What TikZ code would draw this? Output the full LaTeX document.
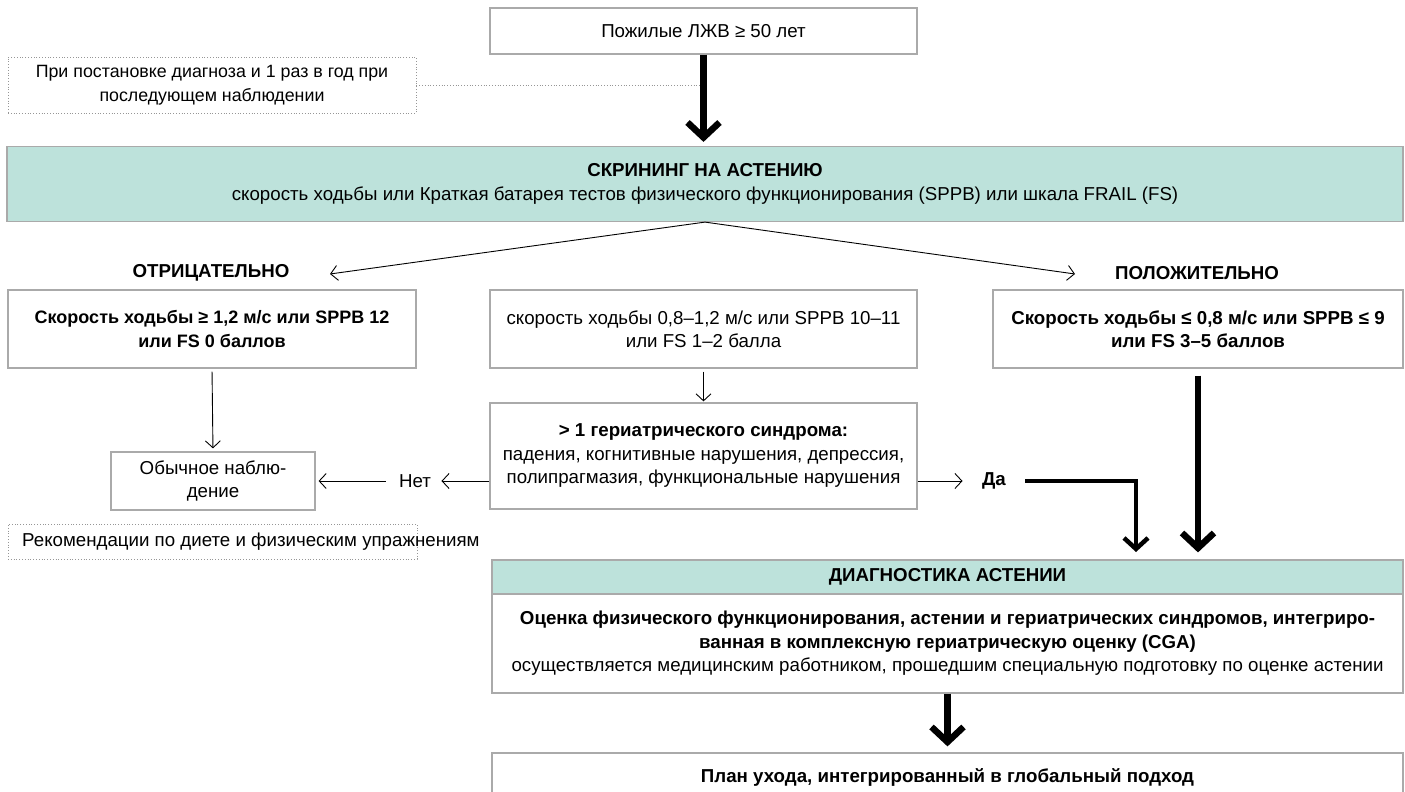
\documentclass[tikz,border=0pt]{standalone}
\usepackage{fontspec}
\setmainfont{Liberation Sans}
\usepackage{tikz}
\usetikzlibrary{arrows.meta,positioning,calc}
\definecolor{screenteal}{RGB}{189,226,219}
\definecolor{boxgray}{RGB}{170,170,170}
\definecolor{notegray}{RGB}{150,150,150}

\begin{document}
\begin{tikzpicture}[x=1pt, y=-1pt,
    font=\fontsize{18.7}{23.5}\selectfont,
    box/.style={draw=boxgray, line width=1.2pt, fill=white, align=center, inner sep=0pt},
    tealbox/.style={box, fill=screenteal},
    notebox/.style={draw=notegray, dotted, line width=0.8pt, inner sep=0pt, align=center},
    flowarrow/.style={-{Straight Barb[length=7pt,width=15pt]}, line width=0.9pt},
    bigarrow/.style={-{Straight Barb[length=15pt,width=32pt,sharp]}, line width=6.5pt},
    midarrow/.style={-{Straight Barb[length=11pt,width=24pt,sharp]}, line width=4.5pt}]
    \useasboundingbox (0,0) rectangle (1405,792);

    % Start and screening
    \node[box, minimum width=427pt, minimum height=46pt] (start) at (703.5,31) {Пожилые ЛЖВ ≥ 50 лет};
    \node[notebox, minimum width=408pt, minimum height=56pt, font=\fontsize{17.8}{23.5}\selectfont] (note1) at (212,85)
        {При постановке диагноза и 1 раз в год при\\последующем наблюдении};
    \node[tealbox, minimum width=1396pt, minimum height=75pt] (screen) at (705,184)
        {\textbf{СКРИНИНГ НА АСТЕНИЮ}\\скорость ходьбы или Краткая батарея тестов физического функционирования (SPPB) или шкала FRAIL (FS)};

    \draw[notegray, dotted, line width=0.8pt] (note1.east) -- (note1.east -| start.south);
    \draw[bigarrow, shorten >=4pt] (start.south) -- (start.south |- screen.north);

    % Branch labels
    \node (neglab) at (211,273) {\textbf{ОТРИЦАТЕЛЬНО}};
    \node (poslab) at (1197,273) {\textbf{ПОЛОЖИТЕЛЬНО}};
    \coordinate (negtip) at (330,274);
    \coordinate (postip) at (1075,274);
    \draw[flowarrow] (screen.south) -- (negtip);
    \draw[flowarrow] (screen.south) -- (postip);

    % Result boxes
    \node[box, minimum width=408pt, minimum height=78pt, font=\fontsize{18}{23.5}\selectfont] (normbox) at (212,329)
        {\textbf{Скорость ходьбы ≥ 1,2 м/с или SPPB 12}\\\textbf{или FS 0 баллов}};
    \node[box, minimum width=427pt, minimum height=78pt] (midbox) at (703.5,329)
        {скорость ходьбы 0,8–1,2 м/с или SPPB 10–11\\или FS 1–2 балла};
    \node[box, minimum width=410pt, minimum height=78pt] (frailbox) at (1198,329)
        {\textbf{Скорость ходьбы ≤ 0,8 м/с или SPPB ≤ 9}\\\textbf{или FS 3–5 баллов}};

    \node[box, minimum width=204pt, minimum height=58pt] (usual) at (213,481)
        {Обычное наблю-\\дение};
    \node[box, minimum width=427pt, minimum height=106pt] (geri) at (703.5,456)
        {\textbf{> 1 гериатрического синдрома:}\\падения, когнитивные нарушения, депрессия,\\полипрагмазия, функциональные нарушения};

    \draw[flowarrow, shorten <=3pt, shorten >=3pt] (normbox.south) -- (usual.north);
    \draw[flowarrow, shorten <=3pt, shorten >=1pt] (midbox.south) -- (geri.north);

    % Answers
    \node (netlab) at (415,481) {Нет};
    \node (dalab) at (994,481) {\textbf{Да}};
    \draw[flowarrow, shorten >=7pt] (geri.west |- netlab) -- (netlab.east);
    \draw[flowarrow, shorten <=10pt, shorten >=3pt] (netlab.west) -- (usual.east);
    \draw[flowarrow, shorten >=16pt] (geri.east |- dalab) -- (dalab.west);

    % Recommendation note
    \node[notebox, minimum width=409pt, minimum height=35pt] (note2) at (212.5,541.5) {};
    \node[anchor=west, inner sep=0pt] (note2text) at (22,542) {Рекомендации по диете и физическим упражнениям};

    % Diagnostics
    \node[tealbox, minimum width=911pt, minimum height=34pt] (diaghead) at (947.5,577)
        {\textbf{ДИАГНОСТИКА АСТЕНИИ}};
    \node[box, minimum width=911pt, minimum height=99pt] (diagbody) at (947.5,643.5)
        {\textbf{Оценка физического функционирования, астении и гериатрических синдромов, интегриро-}\\
         \textbf{ванная в комплексную гериатрическую оценку (CGA)}\\
         осуществляется медицинским работником, прошедшим специальную подготовку по оценке астении};
    \node[box, minimum width=911pt, minimum height=48pt] (plan) at (947.5,777)
        {\textbf{План ухода, интегрированный в глобальный подход}};

    \coordinate (dadrop) at (1136,552);
    \draw[midarrow, shorten <=16pt] (dalab.east) -| (dadrop);
    \draw[bigarrow, shorten <=7pt, shorten >=7pt] (frailbox.south) -- (frailbox.south |- diaghead.north);
    \draw[bigarrow, shorten >=6pt] (diagbody.south) -- (plan.north);
\end{tikzpicture}
\end{document}
